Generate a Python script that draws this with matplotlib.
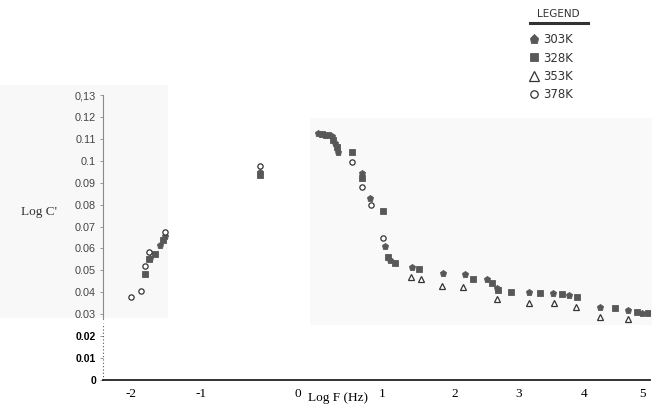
import numpy as np
import matplotlib
matplotlib.use("Agg")
import matplotlib.pyplot as plt
from matplotlib.lines import Line2D
from matplotlib.patches import Rectangle

# ---- data (log F in Hz, log C') ----
x_303 = [-1.73, -1.59, -1.51, -0.39, 0.24, 0.32, 0.40, 0.44, 0.48, 0.76, 0.86, 1.04, 1.11,
         1.41, 1.84, 2.16, 2.50, 2.66, 3.15, 3.52, 3.77, 4.27, 4.75, 4.98]
y_303 = [0.0556, 0.0616, 0.0657, 0.0948, 0.1126, 0.1117, 0.1113, 0.1081, 0.1040, 0.0944, 0.0830,
         0.0611, 0.0547, 0.0515, 0.0488, 0.0483, 0.0460, 0.0420, 0.0401, 0.0397, 0.0388, 0.0333,
         0.0319, 0.0306]
x_328 = [-1.80, -1.75, -1.66, -1.54, -0.39, 0.29, 0.36, 0.42, 0.46, 0.64, 0.76, 1.01, 1.08,
         1.18, 1.51, 2.28, 2.58, 2.67, 2.88, 3.32, 3.66, 3.89, 4.53, 4.90, 5.08]
y_328 = [0.0483, 0.0552, 0.0575, 0.0638, 0.0935, 0.1122, 0.1117, 0.1094, 0.1062, 0.1040, 0.0921,
         0.0771, 0.0561, 0.0534, 0.0506, 0.0460, 0.0442, 0.0410, 0.0401, 0.0397, 0.0392, 0.0378,
         0.0328, 0.0310, 0.0306]
x_353 = [1.40, 1.53, 1.82, 2.13, 2.66, 3.15, 3.54, 3.88, 4.27, 4.75]
y_353 = [0.0470, 0.0460, 0.0429, 0.0424, 0.0369, 0.0351, 0.0351, 0.0333, 0.0287, 0.0278]
x_378 = [-2.00, -1.86, -1.80, -1.74, -1.51, -0.39, 0.64, 0.76, 0.87, 1.01]
y_378 = [0.0378, 0.0406, 0.0520, 0.0584, 0.0675, 0.0976, 0.0994, 0.0880, 0.0798, 0.0648]

x_ticks = [-2, -1, 0, 1, 2, 3, 4, 5]
x_ticklabels = ["-2", "-1", "0", "1", "2", "3", "4", "5"]
y_ticks = [0, 0.01, 0.02, 0.03, 0.04, 0.05, 0.06, 0.07, 0.08, 0.09, 0.1, 0.11, 0.12, 0.13]
y_ticklabels = ["0", "0.01", "0.02", "0.03", "0.04", "0.05", "0.06", "0.07", "0.08", "0.09",
                "0.1", "0.11", "0.12", "0,13"]
labels = ["303K", "328K", "353K", "378K"]

# uneven spacing of the scanned frequency axis (tick value -> relative position)
scale_vals = [-2.4, -2, -1, 0, 1, 2, 3, 4, 5, 5.11]
scale_pos = [103, 131, 201, 298, 382, 455, 519, 584, 643, 650]

W, H = 652, 407
fig = plt.figure(figsize=(W / 100, H / 100), dpi=100)
fig.patch.set_facecolor("white")

# faint scan patches
fig.patches.append(Rectangle((0 / W, 1 - 318 / H), 168 / W, 233 / H, transform=fig.transFigure,
                             facecolor="#f8f8f8", edgecolor="none", zorder=-5))
fig.patches.append(Rectangle((310 / W, 1 - 325 / H), 342 / W, 207 / H, transform=fig.transFigure,
                             facecolor="#f9f9f9", edgecolor="none", zorder=-5))

ax = fig.add_axes([103 / W, (H - 380) / H, (650 - 103) / W, (380 - 95) / H])
ax.set_zorder(2)
ax.patch.set_alpha(0)

fwd = lambda v: np.interp(v, scale_vals, scale_pos)
inv = lambda p: np.interp(p, scale_pos, scale_vals)
ax.set_xscale("function", functions=(fwd, inv))
ax.set_xlim(-2.4, 5.11)
ax.set_ylim(0, 0.13)

dark = "#585858"
ax.plot(x_303, y_303, ls="none", marker="p", ms=4.8, mfc=dark, mec=dark, mew=0.6, label=labels[0])
ax.plot(x_328, y_328, ls="none", marker="s", ms=4.2, mfc=dark, mec=dark, mew=0.6, label=labels[1])
ax.plot(x_353, y_353, ls="none", marker="^", ms=4.8, mfc="white", mec="#333333", mew=0.9, label=labels[2])
ax.plot(x_378, y_378, ls="none", marker="o", ms=3.8, mfc="white", mec="#333333", mew=0.9, label=labels[3])

for s in ["top", "right"]:
    ax.spines[s].set_visible(False)
ax.spines["left"].set_bounds(0.028, 0.13)
ax.spines["left"].set_color("#8a8a8a")
ax.spines["left"].set_linewidth(0.8)
ax.plot([0, 0], [0.0, 0.026], transform=ax.get_yaxis_transform(), color="#555555",
        lw=0.8, ls=(0, (1, 2)), clip_on=False)
ax.spines["bottom"].set_color("#222222")
ax.spines["bottom"].set_linewidth(1.3)

ax.set_xticks(x_ticks)
ax.set_xticklabels(x_ticklabels, family="Liberation Serif", fontsize=9.5)
ax.tick_params(axis="x", length=0, pad=6)

ax.set_yticks(y_ticks)
ax.set_yticklabels(y_ticklabels)
ax.tick_params(axis="y", length=2.5, width=0.6, color="#8a8a8a", pad=2.5)
for t, v in zip(ax.get_yticklabels(), y_ticks):
    if v < 0.025:
        t.set_fontweight("bold")
        t.set_color("black")
        t.set_fontsize(7.5)
    else:
        t.set_color("#444444")
        t.set_fontsize(7.8)
    t.set_family("Liberation Sans")

ax.text(0.48, -0.0055, "Log F (Hz)", ha="center", va="top", family="Liberation Serif",
        fontsize=9.5, transform=ax.transData, clip_on=False)
fig.text(39 / W, 1 - 212 / H, "Log C'", ha="center", va="center", family="Liberation Serif",
         fontsize=9.5, color="#333333")

# legend
leg = fig.legend(handles=ax.get_lines()[:4], labels=labels, loc="upper left",
                 bbox_to_anchor=(522 / W, 1 - 25 / H), frameon=False, handlelength=0.6,
                 handletextpad=0.5, labelspacing=0.45, borderpad=0.2, markerscale=1.4,
                 prop={"family": "DejaVu Sans", "size": 8.5})
for t in leg.get_texts():
    t.set_color("#333333")
fig.text(558 / W, 1 - 14 / H, "LEGEND", ha="center", va="center", family="DejaVu Sans",
         fontsize=7.5, color="#333333")
fig.add_artist(Line2D([530 / W, 588 / W], [1 - 23 / H, 1 - 23 / H], transform=fig.transFigure,
                      color="#333333", lw=2.2))

fig.savefig("out.png", dpi=100)
